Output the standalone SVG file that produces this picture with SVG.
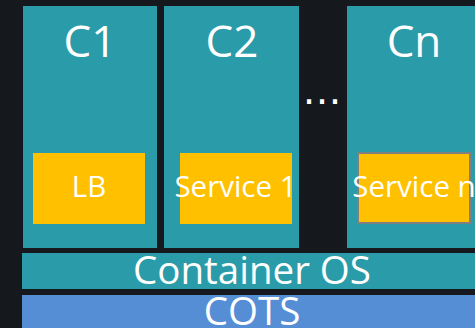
<svg xmlns="http://www.w3.org/2000/svg" width="475" height="328" viewBox="0 0 475 328">
  <style>
    .container { fill: #2a9ba8; }
    .svc { fill: #ffc000; }
    .lbl { fill: #ffffff; font-family: "Open Sans", "Noto Sans", "DejaVu Sans", sans-serif; text-anchor: middle; }
    .big { font-size: 44px; }
    .mid { font-size: 29.5px; }
    .layer { font-size: 38.5px; }
  </style>
  <rect x="0" y="0" width="475" height="328" fill="#15181c"/>

  <g id="c1">
    <rect class="container" x="23" y="6" width="134" height="242"/>
    <text class="lbl big" x="90" y="57">C1</text>
  </g>
  <g id="lb">
    <rect class="svc" x="33" y="153" width="112" height="71"/>
    <text class="lbl mid" x="89" y="197">LB</text>
  </g>

  <g id="c2">
    <rect class="container" x="164" y="6" width="135" height="242"/>
    <text class="lbl big" x="232" y="57">C2</text>
  </g>
  <g id="service1">
    <rect class="svc" x="180" y="153" width="112" height="71"/>
    <text class="lbl mid" x="235.5" y="197">Service 1</text>
  </g>

  <g id="ellipsis">
    <text x="322" y="104" fill="#ffffff" font-family="DejaVu Sans, sans-serif" font-size="39" text-anchor="middle">…</text>
  </g>

  <g id="cn">
    <rect class="container" x="347" y="6" width="134" height="242"/>
    <text class="lbl big" x="414" y="57">Cn</text>
  </g>
  <g id="servicen">
    <rect class="svc" x="358" y="153" width="112" height="70" stroke="#7f7f7f" stroke-width="2"/>
    <text class="lbl mid" x="414" y="197">Service n</text>
  </g>

  <g id="container-os">
    <rect class="container" x="22" y="253" width="460" height="36"/>
    <text class="lbl layer" x="252" y="284">Container OS</text>
  </g>

  <g id="cots">
    <rect x="22" y="295" width="460" height="40" fill="#558ed5"/>
    <text class="lbl layer" x="252" y="325">COTS</text>
  </g>

  <g id="connectors"/>
</svg>
